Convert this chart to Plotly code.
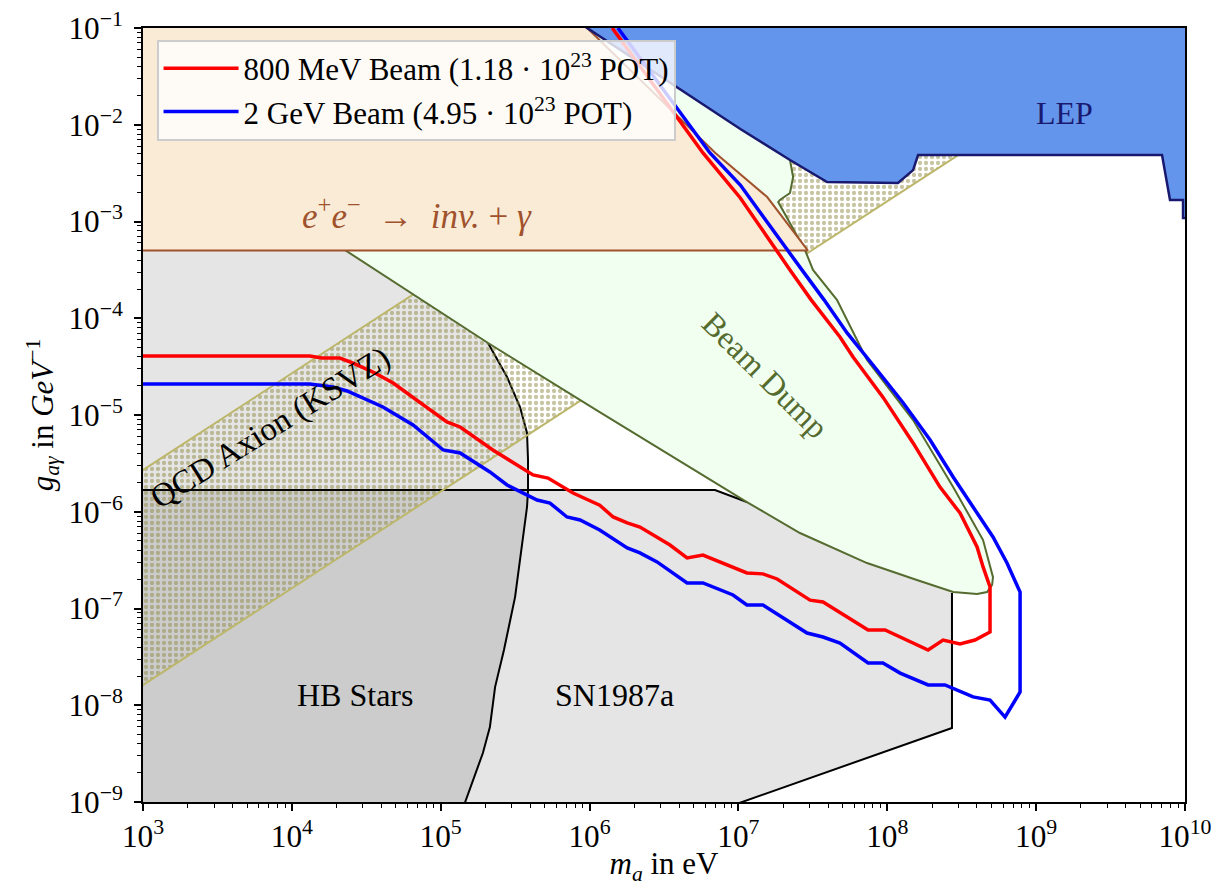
import numpy as np
import plotly.graph_objects as go

# ---------------- data (mass in eV, coupling in GeV^-1) ----------------
red_mass = [1e3, 1.32e4, 1.59e4, 2.10e4, 2.58e4, 3.51e4, 4.79e4, 8.09e4, 1.10e5, 1.35e5,
            2.24e5, 4.17e5, 5.26e5, 7.74e5, 1.17e6, 1.44e6, 1.79e6, 2.18e6, 3.47e6, 4.52e6,
            5.78e6, 1.14e7, 1.46e7, 1.82e7, 3.03e7, 3.70e7, 7.43e7, 9.66e7, 1.88e8, 2.37e8,
            3.08e8, 3.88e8, 4.90e8, 4.90e8, 4.40e8, 4.01e8, 3.08e8, 2.26e8, 1.49e8, 9.35e7,
            5.89e7, 4.81e7, 3.08e7, 2.22e7, 1.03e7, 5.78e6, 1.42e6]
red_g = [4.07e-5, 4.07e-5, 3.88e-5, 3.88e-5, 3.44e-5, 2.78e-5, 2.14e-5, 1.21e-5, 8.47e-6, 7.52e-6,
         4.35e-6, 2.40e-6, 2.23e-6, 1.56e-6, 1.17e-6, 8.83e-7, 7.66e-7, 6.95e-7, 4.53e-7, 3.33e-7,
         3.57e-7, 2.33e-7, 2.28e-7, 2.02e-7, 1.22e-7, 1.17e-7, 6.00e-8, 6.00e-8, 3.72e-8, 4.72e-8,
         4.30e-8, 4.72e-8, 5.71e-8, 1.67e-7, 2.69e-7, 4.33e-7, 9.70e-7, 1.80e-6, 5.14e-6, 1.53e-5,
         3.97e-5, 6.40e-5, 1.55e-4, 3.16e-4, 1.75e-3, 5.11e-3, 0.1]

blue_mass = [1e3, 1.32e4, 1.89e4, 2.35e4, 4.09e4, 6.52e4, 1.04e5, 1.35e5, 2.14e5, 2.79e5,
             4.44e5, 5.42e5, 7.05e5, 8.63e5, 1.17e6, 1.79e6, 2.18e6, 2.84e6, 4.52e6, 5.78e6,
             9.20e6, 1.14e7, 1.46e7, 2.89e7, 3.70e7, 4.81e7, 7.43e7, 9.35e7, 1.22e8, 1.88e8,
             2.44e8, 3.77e8, 4.90e8, 6.18e8, 7.80e8, 7.80e8, 6.37e8, 5.13e8, 3.77e8, 2.77e8,
             1.94e8, 1.28e8, 8.53e7, 5.37e7, 3.76e7, 2.67e7, 1.03e7, 6.44e6, 1.55e6]
blue_g = [2.09e-5, 2.09e-5, 1.95e-5, 1.77e-5, 1.21e-5, 7.89e-6, 4.35e-6, 4.05e-6, 2.58e-6, 1.89e-6,
          1.32e-6, 1.23e-6, 8.83e-7, 8.22e-7, 6.47e-7, 4.22e-7, 3.75e-7, 3.03e-7, 1.84e-7, 1.84e-7,
          1.38e-7, 1.09e-7, 1.09e-7, 5.58e-8, 5.07e-8, 4.40e-8, 2.74e-8, 2.74e-8, 2.15e-8, 1.62e-8,
          1.62e-8, 1.22e-8, 1.13e-8, 7.55e-9, 1.37e-8, 1.48e-7, 2.95e-7, 5.48e-7, 1.12e-6, 2.29e-6,
          5.52e-6, 1.33e-5, 2.92e-5, 7.05e-5, 1.55e-4, 3.16e-4, 2.38e-3, 5.11e-3, 0.1]

ee_mass = [5e2, 6.07e5, 7.0e6, 1.56e7, 2.93e7, 5e2]
ee_g = [0.2, 0.2, 5.1e-3, 1.79e-3, 5.0e-4, 5.0e-4]

lep_mass = [4.86e5, 1.03e7, 2.22e7, 3.94e7, 1.18e8, 1.49e8, 1.61e8, 7.01e9, 7.93e9, 9.70e9, 9.70e9, 2e10, 2e10]
lep_g = [0.2, 9.04e-3, 4.32e-3, 2.56e-3, 2.50e-3, 3.40e-3, 4.86e-3, 4.86e-3, 1.67e-3, 1.67e-3, 1.09e-3, 1.09e-3, 0.2]

bd_mass = [5e2, 2.28e4, 2.08e5, 1.17e6, 1.14e7, 2.59e7, 7.31e7, 1.58e8, 2.77e8, 4.01e8, 4.68e8,
           5.06e8, 5.13e8, 4.40e8, 2.77e8, 1.49e8, 7.31e7, 4.59e7, 3.17e7, 2.80e7, 1.85e7, 1.90e7,
           2.22e7, 2.33e7, 2.22e7, 2.22e7, 5e2]
bd_g = [2.3e-2, 5.07e-4, 5.55e-5, 1.07e-5, 1.26e-6, 6.03e-7, 2.95e-7, 1.97e-7, 1.48e-7, 1.41e-7, 1.48e-7,
        1.75e-7, 2.11e-7, 5.10e-7, 1.80e-6, 8.87e-6, 3.70e-5, 1.55e-4, 3.16e-4, 5.07e-4, 1.59e-3, 1.67e-3,
        1.97e-3, 2.88e-3, 4.32e-3, 0.2, 0.2]

qcd_mass = [5e2, 2e9, 2e9, 5e2]
qcd_g = [8.1e-9, 3.24e-2, 5.4, 1.35e-6]

hb_curve_mass = [2.08e5, 2.79e5, 3.41e5, 3.80e5, 3.86e5, 3.86e5, 3.80e5, 3.41e5, 3.16e5, 2.66e5,
                 2.32e5, 2.14e5, 1.92e5, 1.46e5, 1.23e5]
hb_curve_g = [5.55e-5, 2.47e-5, 1.21e-5, 6.52e-6, 3.43e-6, 1.68e-6, 1.12e-6, 3.17e-7, 1.32e-7, 3.72e-8,
              1.55e-8, 5.96e-9, 3.21e-9, 1.0e-9, 5e-10]
hb_top_g = 1.68e-6
upper_gray_top_g = 1e-3
edge_mass = 5e2
bottom_g = 5e-10

sn_mass = [5e2, 6.96e6, 1.14e7, 2.59e7, 7.31e7, 1.58e8, 2.72e8, 2.72e8, 2.95e6, 5e2]
sn_g = [1.68e-6, 1.68e-6, 1.26e-6, 7.2e-7, 3.5e-7, 2.3e-7, 1.7e-7, 5.82e-9, 5e-10, 5e-10]
sn_top_mass = [5e2, 6.96e6, 1.14e7]
sn_top_g = [1.68e-6, 1.68e-6, 1.26e-6]
sn_side_mass = [2.72e8, 2.72e8, 2.95e6]
sn_side_g = [1.45e-7, 5.82e-9, 5e-10]

labels = [
    dict(text="LEP", m=1.56e9, g=1.32e-2, angle=0, color="#191970", size=32),
    dict(text="Beam Dump", m=1.51e7, g=2.59e-5, angle=45, color="#556B2F", size=32),
    dict(text="QCD Axion (KSVZ)", m=7.24e3, g=7.34e-6, angle=-32, color="black", size=33),
    dict(text="<i>e</i><sup>+</sup><i>e</i><sup>\u2212</sup>  \u2192  <i>inv.</i> + <i>\u03b3</i>",
         m=6.93e4, g=1.22e-3, angle=0, color="#A0522D", size=35),
    dict(text="HB Stars", m=2.66e4, g=1.28e-8, angle=0, color="black", size=32),
    dict(text="SN1987a", m=1.48e6, g=1.28e-8, angle=0, color="black", size=32),
]

FONT = "Liberation Serif"

fig = go.Figure()

def region(x, y, fill, line=None, width=2):
    fig.add_trace(go.Scatter(
        x=x, y=y, mode="lines", fill="toself", fillcolor=fill,
        line=dict(color=line if line else "rgba(0,0,0,0)", width=width if line else 0),
        hoverinfo="skip", showlegend=False))

def edge(x, y, color="black", width=2):
    fig.add_trace(go.Scatter(x=x, y=y, mode="lines", line=dict(color=color, width=width),
                             hoverinfo="skip", showlegend=False))

# upper-left light gray region, bounded on the right by the HB curve
ug_x = [edge_mass, hb_curve_mass[0]] + hb_curve_mass[:6] + [edge_mass]
ug_y = [upper_gray_top_g, upper_gray_top_g] + hb_curve_g[:6] + [hb_top_g]
region(ug_x, ug_y, "#E5E5E5")
# SN1987a
region(sn_mass, sn_g, "#E5E5E5")
# HB stars
hb_x = [edge_mass] + hb_curve_mass[5:] + [edge_mass]
hb_y = [hb_top_g] + hb_curve_g[5:] + [bottom_g]
region(hb_x, hb_y, "#CCCCCC")
# black outlines
edge(sn_top_mass, sn_top_g)
edge(sn_side_mass, sn_side_g)
edge(hb_curve_mass, hb_curve_g)
# QCD axion band
fig.add_trace(go.Scatter(
    x=qcd_mass, y=qcd_g, mode="lines", fill="toself", fillcolor="rgba(0,0,0,0)",
    fillpattern=dict(shape=".", fgcolor="#8f8a45", size=6, solidity=0.4),
    line=dict(color="#BDB76B", width=2), hoverinfo="skip", showlegend=False))
# Beam dump
region(bd_mass, bd_g, "#F0FFF0", "#556B2F", 2)
# e+e- -> inv + gamma
region(ee_mass, ee_g, "#FAEBD7", "#A0522D", 2)
# LEP
region(lep_mass, lep_g, "#6495ED", "#191970", 2.5)

# sensitivity curves
fig.add_trace(go.Scatter(x=red_mass, y=red_g, mode="lines", line=dict(color="red", width=3.5),
                         name="800 MeV Beam (1.18 \u00b7 10<sup>23</sup> POT)"))
fig.add_trace(go.Scatter(x=blue_mass, y=blue_g, mode="lines", line=dict(color="blue", width=3.5),
                         name="2 GeV Beam (4.95 \u00b7 10<sup>23</sup> POT)"))

for lab in labels:
    fig.add_annotation(x=np.log10(lab["m"]), y=np.log10(lab["g"]), xref="x", yref="y",
                       text=lab["text"], textangle=lab["angle"], showarrow=False,
                       font=dict(family=FONT, size=lab["size"], color=lab["color"]))

axis_common = dict(
    type="log", showgrid=False, zeroline=False, showline=True, linecolor="black", linewidth=2,
    mirror=True, ticks="outside", ticklen=7, tickwidth=1.5, tickcolor="black", dtick=1,
    exponentformat="power", showexponent="all",
    tickfont=dict(family=FONT, size=25, color="black"),
    minor=dict(ticks="outside", ticklen=4, tickwidth=1, tickcolor="black", showgrid=False),
)

fig.update_layout(
    width=1213, height=886,
    margin=dict(l=143, r=28, t=28, b=84, autoexpand=False),
    paper_bgcolor="white", plot_bgcolor="white",
    font=dict(family=FONT, color="black"),
    xaxis=dict(range=[3, 10], title=dict(text="<i>m<sub>a</sub></i> in eV",
               font=dict(family=FONT, size=31), standoff=4), **axis_common),
    yaxis=dict(range=[-9, -1], title=dict(text="<i>g<sub>a\u03b3</sub></i> in <i>GeV</i><sup>\u22121</sup>",
               font=dict(family=FONT, size=31), standoff=6), ticklabelstandoff=6, **axis_common),
    legend=dict(x=0.013, y=0.985, xanchor="left", yanchor="top",
                bgcolor="rgba(255,255,255,0.8)", bordercolor="#CCCCCC", borderwidth=2,
                font=dict(family=FONT, size=31, color="black"), itemwidth=75),
)

fig.write_html("out.html", config={"displayModeBar": False},
               post_script="document.body.style.margin='0';document.body.style.overflow='hidden';")
